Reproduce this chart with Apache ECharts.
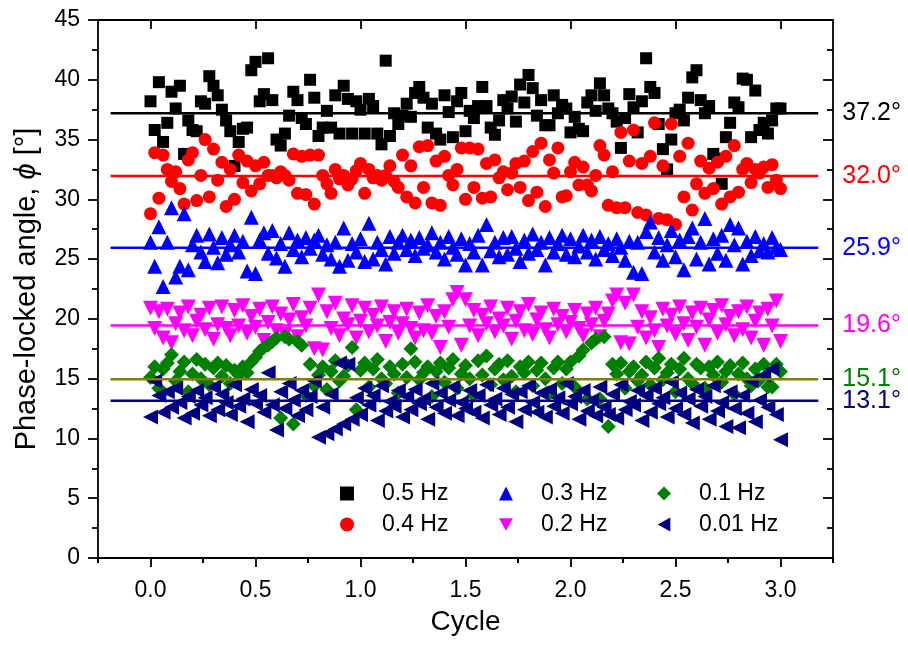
<!DOCTYPE html>
<html><head><meta charset="utf-8">
<script src="https://cdn.jsdelivr.net/npm/echarts@6/dist/echarts.min.js"></script>
<style>html,body{margin:0;padding:0;background:#fff}#c{width:908px;height:645px}</style>
</head><body><div id="c"></div>
<script>
const seriesNames = ['0.5 Hz','0.4 Hz','0.3 Hz','0.2 Hz','0.1 Hz','0.01 Hz'];
const cycleMax = 3.0;
const hz05 = [
38.2,35.8,39.8,34.8,36.4,39.0,37.6,39.5,33.8,36.6,
35.8,35.7,38.2,38.0,40.3,39.5,38.7,37.5,36.6,35.7,
32.8,34.8,35.9,36.0,40.8,41.5,38.2,38.8,41.8,38.3,
35.0,34.5,35.5,37.0,39.0,38.3,36.8,36.3,40.0,38.5,
35.3,36.0,37.4,36.0,38.7,35.5,39.5,38.4,35.5,38.2,
37.5,35.5,38.4,37.8,35.5,34.6,41.6,35.3,37.2,36.3,
37.0,38.0,36.9,38.9,39.4,38.5,36.0,38.0,35.5,35.0,
38.7,37.3,35.2,38.2,38.9,35.7,37.4,36.8,37.8,39.4,
37.8,36.0,35.4,36.6,38.3,37.6,38.6,36.5,39.6,38.1,
40.4,39.3,37.0,38.3,36.2,36.2,38.7,37.2,37.9,37.6,
35.6,36.9,35.9,35.7,38.1,38.7,37.4,39.7,38.7,37.6,
37.2,36.5,34.3,36.8,38.8,37.7,35.6,38.2,41.8,39.4,
38.9,36.3,34.2,32.5,35.0,37.2,37.5,36.6,38.5,40.2,
40.8,38.3,37.2,37.8,33.8,33.4,31.3,35.2,36.4,38.1,
37.7,40.1,40.0,35.2,39.1,35.8,36.4,35.5,36.6,37.6,
37.6];
const hz04 = [
28.8,33.9,30.1,33.7,32.5,31.5,32.3,30.9,29.6,33.3,
33.9,29.9,32.0,35.0,30.2,34.2,31.6,33.1,29.4,32.5,
30.0,33.7,31.4,33.2,30.7,32.8,31.3,33.1,32.0,32.0,
31.8,32.3,32.0,31.6,33.8,30.5,33.6,30.4,33.7,29.6,
33.7,32.0,31.3,30.5,32.5,31.7,32.0,31.2,31.7,32.4,
33.0,30.5,32.5,31.8,32.0,31.6,32.0,32.8,31.5,31.0,
33.7,30.2,32.8,29.7,34.4,31.0,34.5,29.7,33.2,29.5,
33.6,32.0,31.2,32.5,34.3,30.0,34.3,31.0,34.2,30.1,
33.0,30.2,33.3,31.8,32.3,30.8,32.2,33.0,31.0,33.2,
29.9,34.0,30.6,34.7,29.4,33.3,32.2,34.3,30.2,30.3,
32.3,33.1,31.2,32.7,31.2,30.7,32.0,34.5,33.7,29.5,
32.3,29.3,35.6,29.3,33.2,35.8,28.9,33.0,28.7,33.6,
36.4,28.4,32.8,28.3,36.3,27.9,33.6,30.2,34.7,29.1,
31.3,33.2,30.5,32.6,30.9,33.1,29.6,33.6,30.2,34.5,
30.6,32.5,33.0,31.4,32.5,32.2,32.7,31.0,32.9,31.6,
30.9];
const hz03 = [
26.4,24.4,27.7,22.7,26.4,29.3,23.5,24.4,28.8,24.1,
26.2,27.0,25.6,24.8,27.1,26.0,24.7,26.8,25.4,26.2,
27.0,25.6,26.5,24.0,28.5,23.8,26.6,27.2,25.5,27.4,
25.1,26.3,24.4,27.2,25.8,26.6,25.2,26.8,25.9,26.6,
27.0,25.4,26.2,25.0,26.4,24.4,27.6,24.9,26.3,25.6,
26.7,24.8,28.0,25.0,26.4,25.8,24.6,26.9,25.5,26.4,
27.0,25.8,26.6,25.3,26.8,25.9,26.2,27.2,25.6,26.4,
25.0,26.9,26.0,25.4,26.7,24.5,26.3,25.6,27.0,24.5,
27.9,25.7,26.4,25.2,26.8,25.4,26.9,25.9,24.8,26.6,
25.5,27.1,25.8,26.4,24.5,26.8,25.6,26.3,27.0,25.4,
26.7,25.2,26.1,27.0,25.6,26.6,25.0,26.9,25.8,26.3,
25.3,26.7,26.0,24.9,26.5,23.9,26.4,23.8,27.3,28.1,
25.6,26.8,24.9,26.2,27.4,25.2,26.6,24.1,26.9,27.6,
25.0,26.4,28.4,24.6,26.7,25.5,27.0,24.9,27.9,26.2,
27.6,24.6,26.5,25.3,26.9,25.7,26.3,25.6,26.8,26.0,
25.8];
const hz02 = [
20.9,19.2,20.6,18.4,20.8,18.0,19.6,20.5,19.0,21.0,
18.6,19.8,20.3,19.1,20.9,18.3,19.5,21.0,19.2,18.6,
20.7,19.4,21.1,18.8,20.2,19.3,20.8,18.2,19.7,21.0,
19.0,20.4,18.7,19.9,21.2,18.5,20.1,19.4,20.9,17.5,
22.0,17.4,20.6,19.2,21.3,18.6,20.0,19.5,21.1,18.4,
19.8,20.9,18.9,20.3,19.4,21.0,18.1,19.7,20.6,18.8,
19.6,20.8,19.2,18.4,20.5,19.0,21.1,18.8,20.2,17.6,
20.6,19.3,21.6,22.2,17.8,21.6,19.4,20.7,18.6,20.3,
19.6,21.0,18.9,20.0,19.4,20.9,18.3,19.8,20.6,19.0,
21.2,18.7,19.9,20.5,19.1,18.4,20.8,19.5,20.2,18.9,
19.7,20.7,19.2,18.6,20.4,19.5,20.9,18.5,19.8,20.4,
21.5,22.0,18.0,21.3,17.9,22.0,19.3,20.6,18.4,20.1,
19.0,17.6,20.8,19.4,20.3,18.7,21.0,19.6,18.2,20.5,
19.3,20.9,17.8,19.9,20.7,18.8,21.1,19.5,20.2,18.6,
20.6,19.1,21.0,18.4,19.8,20.5,17.8,20.8,19.4,21.5,
18.1];
const hz01 = [
15.1,16.0,14.2,15.8,16.3,17.0,14.8,15.6,16.4,13.9,
15.4,16.6,15.0,16.2,14.5,15.9,16.3,15.2,16.1,14.6,
15.7,15.3,16.0,15.5,16.4,16.8,17.3,17.6,17.8,18.1,
18.4,11.7,18.5,18.3,11.2,18.1,17.8,13.6,16.2,14.4,
15.3,16.0,14.1,15.6,16.5,14.8,15.2,16.1,17.6,12.4,
15.7,16.3,14.3,15.8,16.6,15.0,14.6,16.0,15.4,13.8,
16.2,15.1,17.5,16.4,14.9,15.5,16.0,13.5,15.6,16.3,
14.7,15.9,16.6,14.2,15.4,16.1,15.0,13.6,16.5,15.3,
16.9,14.5,15.8,16.2,14.9,16.5,15.2,13.9,16.0,15.5,
16.4,14.4,15.7,16.3,15.0,13.8,15.9,16.4,14.6,15.8,
16.4,14.3,16.9,17.4,13.3,18.0,18.3,13.3,18.5,11.0,
16.2,15.4,16.3,14.2,15.6,16.0,14.8,15.3,16.4,14.5,
15.9,16.7,14.9,15.5,16.2,13.9,15.8,16.7,15.0,14.6,
16.2,15.9,14.2,16.0,15.3,16.4,14.7,15.6,16.1,13.7,
15.4,16.3,15.0,14.4,15.8,14.9,16.2,14.3,14.3,16.2,
15.6];
const hz001 = [
11.8,14.8,13.6,12.2,13.9,12.6,14.2,13.0,11.7,13.5,
12.1,14.0,12.8,13.4,11.9,14.3,12.4,13.7,13.0,12.0,
14.5,12.7,13.3,11.4,14.1,12.9,13.6,12.2,15.5,12.8,
10.7,13.9,12.5,14.6,13.2,11.9,14.0,12.4,13.5,14.8,
10.1,12.6,10.4,13.7,10.8,16.3,11.2,16.2,11.6,13.4,
12.0,14.2,12.8,13.6,11.5,14.4,12.3,13.1,12.7,14.0,
11.8,13.5,12.4,14.1,12.9,13.3,11.6,14.6,12.6,13.8,
12.1,13.2,14.3,11.9,13.0,12.5,14.0,12.2,13.6,11.7,
14.5,12.8,13.3,12.0,14.2,12.6,13.7,11.4,13.9,12.4,
14.4,13.0,12.2,13.8,11.8,14.1,12.7,13.4,12.1,14.6,
12.9,13.5,11.6,14.0,12.3,13.2,11.9,14.3,12.6,12.0,
13.7,11.7,14.5,12.4,13.1,12.8,14.0,11.5,13.6,12.2,
14.2,12.9,13.4,11.8,14.7,12.5,13.8,12.0,13.3,11.3,
14.1,12.7,13.5,11.6,14.4,12.3,13.0,11.0,13.9,12.5,
10.9,13.6,12.1,14.8,11.4,13.2,15.3,12.6,15.8,12.0,
9.9];
const meanValues = [37.2, 31.95, 25.95, 19.45, 14.95, 13.15];
const meanLabels = ['37.2°','32.0°','25.9°','19.6°','15.1°','13.1°'];
const meanLineRange = [-0.19, 3.18];
const xMajorTicks = [0, 0.5, 1.0, 1.5, 2.0, 2.5, 3.0];
const xMinorTicks = [-0.25, 0.25, 0.75, 1.25, 1.75, 2.25, 2.75, 3.25];

const FONT = 'Liberation Sans, Arial, sans-serif';
const allSeries = [hz05, hz04, hz03, hz02, hz01, hz001];
const markColors = ['#000000','#ff0000','#0000ff','#ff00ff','#008000','#000080'];
const lineColors = ['#000000','#ff0000','#0000ff','#ff00ff','#808000','#000080'];
const labelColors = ['#000000','#ff0000','#0000ff','#ff00ff','#008000','#000080'];
const symbols = ['rect','circle','triangle','triangle','diamond','triangle'];
const symbolRot = [0,0,0,180,0,90];
const symbolSizes = [12,13,15,15,15,15];
const legendIcons = ['rect','circle','triangle','path://M0,0 L10,0 L5,9 Z','diamond','path://M0,5 L9,0 L9,10 Z'];

function toPoints(arr){
  const n = arr.length;
  return arr.map((v,i)=>[i*cycleMax/(n-1), v]);
}

const series = [];
allSeries.forEach((arr,k)=>{
  series.push({
    type:'scatter', name:seriesNames[k], data:toPoints(arr),
    symbol:symbols[k], symbolRotate:symbolRot[k], symbolSize:symbolSizes[k],
    itemStyle:{color:markColors[k], opacity:1},
    emphasis:{disabled:true}, silent:true, animation:false
  });
});
meanValues.forEach((m,k)=>{
  series.push({
    type:'line', name:'mean'+k,
    data:[[meanLineRange[0], m],[meanLineRange[1], m]],
    symbol:'none', silent:true, animation:false,
    lineStyle:{color:lineColors[k], width:2.5},
    endLabel:{show:true, formatter:meanLabels[k], color:labelColors[k], fontSize:25, fontFamily:FONT, distance:24}
  });
});

const axisLineStyle = {color:'#000', width:1.8};
function xAx(opts){
  return Object.assign({
    type:'value', min:-0.25, max:3.25, gridIndex:0,
    splitLine:{show:false}, axisLine:{show:true, onZero:false, lineStyle:axisLineStyle},
  }, opts);
}

const legendCommon = {
  orient:'vertical', itemWidth:14, itemHeight:14, itemGap:8, top:477,
  symbolKeepAspect:true, symbolRotate:0,
  selectedMode:false, textStyle:{fontSize:23, color:'#000', fontFamily:FONT, padding:[0,0,0,23]}
};
function legendItem(k){
  return {name:seriesNames[k], icon:legendIcons[k], symbolRotate:0};
}

const option = {
  backgroundColor:'#fff',
  animation:false,
  grid:{left:98, right:75, top:20, bottom:87, outerBoundsMode:'none'},
  legend:[
    Object.assign({left:335, data:[legendItem(0), legendItem(1)]}, legendCommon),
    Object.assign({left:494, data:[legendItem(2), legendItem(3)]}, legendCommon),
    Object.assign({left:652, data:[legendItem(4), legendItem(5)]}, legendCommon)
  ],
  xAxis:[
    xAx({position:'bottom', name:'Cycle', nameLocation:'middle', nameGap:50,
      nameTextStyle:{fontSize:28, color:'#000', fontFamily:FONT},
      axisTick:{show:true, customValues:xMajorTicks, length:9, lineStyle:axisLineStyle},
      axisLabel:{show:true, customValues:xMajorTicks, formatter:v=>v.toFixed(1), fontSize:23, color:'#000', fontFamily:FONT, margin:21}}),
    xAx({position:'bottom', axisLine:{show:false},
      axisTick:{show:true, customValues:xMinorTicks, length:5, lineStyle:axisLineStyle},
      axisLabel:{show:false}}),
    xAx({position:'top',
      axisTick:{show:true, inside:true, customValues:xMajorTicks, length:9, lineStyle:axisLineStyle},
      axisLabel:{show:false}}),
    xAx({position:'top', axisLine:{show:false},
      axisTick:{show:true, inside:true, customValues:xMinorTicks, length:5, lineStyle:axisLineStyle},
      axisLabel:{show:false}})
  ],
  yAxis:[
    {type:'value', min:0, max:45, interval:5, position:'left',
     name:'{n|Phase-locked angle, }{i|ϕ}{n| [°]}', nameLocation:'middle', nameGap:57,
     nameTextStyle:{rich:{n:{fontSize:29, color:'#000', fontFamily:FONT}, i:{fontSize:29, color:'#000', fontStyle:'italic', fontFamily:FONT}}},
     splitLine:{show:false}, axisLine:{show:true, onZero:false, lineStyle:axisLineStyle},
     axisTick:{show:true, length:10, lineStyle:axisLineStyle},
     minorTick:{show:true, splitNumber:2, length:6, lineStyle:axisLineStyle},
     axisLabel:{fontSize:23, color:'#000', fontFamily:FONT, margin:18}},
    {type:'value', min:0, max:45, interval:5, position:'right',
     splitLine:{show:false}, axisLine:{show:true, onZero:false, lineStyle:axisLineStyle},
     axisTick:{show:true, inside:true, length:10, lineStyle:axisLineStyle},
     minorTick:{show:true, splitNumber:2, length:6, lineStyle:axisLineStyle},
     axisLabel:{show:false}}
  ],
  series:series
};
const chart = echarts.init(document.getElementById('c'), null, {renderer:'canvas'});
chart.setOption(option);
</script></body></html>
